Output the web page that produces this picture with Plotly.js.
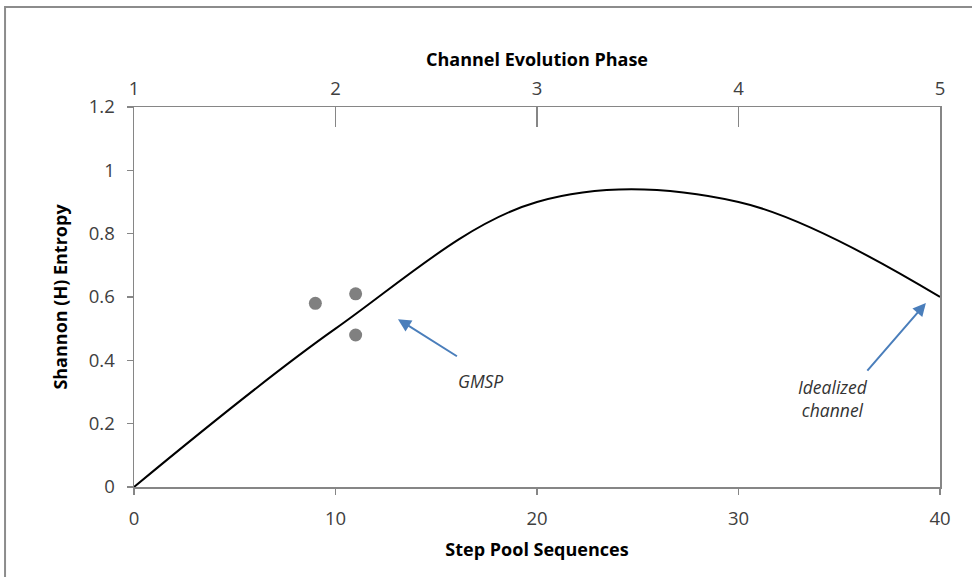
<!DOCTYPE html>
<html>
<head>
<meta charset="utf-8">
<script src="https://cdn.plot.ly/plotly-3.0.1.min.js"></script>
<style>html,body{margin:0;padding:0;background:#fff;}#chart{width:972px;height:577px;}</style>
</head>
<body>
<div id="chart"></div>
<script>
// Idealized channel curve
const curveX = [0, 10, 20, 30, 40];
const curveY = [0, 0.5, 0.9, 0.9, 0.6];
// GMSP observations
const gmspX = [9, 11, 11];
const gmspY = [0.58, 0.61, 0.48];
// top axis (Channel Evolution Phase)
const phaseTicks = [1, 2, 3, 4, 5];
const yTicks = [0, 0.2, 0.4, 0.6, 0.8, 1, 1.2];
const yTickText = ['0', '0.2', '0.4', '0.6', '0.8', '1', '1.2'];

const FONT = '"Open Sans", sans-serif';
const grey = '#868686';

const traces = [
  {x: curveX, y: curveY, type: 'scatter', mode: 'lines',
   line: {color: '#000', width: 2, shape: 'spline', smoothing: 1}, hoverinfo: 'skip'},
  {x: gmspX, y: gmspY, type: 'scatter', mode: 'markers',
   marker: {color: '#808080', size: 13}},
  {x: phaseTicks, y: [null, null, null, null, null], xaxis: 'x2', type: 'scatter', mode: 'markers', showlegend: false}
];

const layout = {
  width: 972, height: 577,
  margin: {l: 134, r: 32, t: 107, b: 90},
  paper_bgcolor: '#fff', plot_bgcolor: '#fff',
  showlegend: false,
  font: {family: FONT, color: '#404040', size: 18},
  xaxis: {
    range: [0, 40], tickvals: [0, 10, 20, 30, 40], ticktext: ['0','10','20','30','40'],
    showgrid: false, zeroline: false, showline: true, linecolor: grey, linewidth: 1.5,
    ticks: 'outside', ticklen: 6, tickcolor: grey, tickwidth: 1.5,
    ticklabelstandoff: 8,
    tickfont: {size: 18.5, color: '#404040'},
    title: {text: '<b>Step Pool Sequences</b>', font: {size: 18, color: '#000'}, standoff: 14}
  },
  xaxis2: {
    overlaying: 'x', side: 'top', range: [1, 5], tickvals: phaseTicks,
    showgrid: false, zeroline: false, showline: true, linecolor: grey, linewidth: 1.5,
    ticks: 'inside', ticklen: 20, tickcolor: grey, tickwidth: 1.5,
    ticklabelstandoff: 3,
    tickfont: {size: 18.5, color: '#404040'},
    title: {text: '<b>Channel Evolution Phase</b>', font: {size: 18, color: '#000'}, standoff: 4}
  },
  yaxis: {
    range: [0, 1.2], tickvals: yTicks, ticktext: yTickText,
    showgrid: false, zeroline: false, showline: true, linecolor: grey, linewidth: 1.5,
    mirror: true,
    ticks: 'outside', ticklen: 6, tickcolor: grey, tickwidth: 1.5,
    ticklabelstandoff: 8,
    tickfont: {size: 18.5, color: '#404040'},
    title: {text: '<b>Shannon (H) Entropy</b>', font: {size: 18, color: '#000'}, standoff: 16}
  },
  shapes: [
    {type: 'rect', xref: 'paper', yref: 'paper', x0: -0.16, x1: 1.2, y0: -0.6, y1: 1.263,
     line: {color: '#8c8c8c', width: 2}, fillcolor: 'rgba(0,0,0,0)', layer: 'below'}
  ],
  annotations: [
    {x: 13.1, y: 0.53, ax: 16.1, ay: 0.41, axref: 'x', ayref: 'y', xref: 'x', yref: 'y',
     text: '', showarrow: true, arrowhead: 2, arrowsize: 1.3, arrowwidth: 2, arrowcolor: '#4a7ebb'},
    {x: 39.3, y: 0.581, ax: 36.33, ay: 0.363, axref: 'x', ayref: 'y', xref: 'x', yref: 'y',
     text: '', showarrow: true, arrowhead: 2, arrowsize: 1.3, arrowwidth: 2, arrowcolor: '#4a7ebb'},
    {x: 17.2, y: 0.335, xref: 'x', yref: 'y', showarrow: false, text: 'GMSP',
     font: {size: 17.5, color: '#333', style: 'italic'}},
    {x: 34.7, y: 0.28, xref: 'x', yref: 'y', showarrow: false, text: 'Idealized<br>channel',
     font: {size: 17.5, color: '#333', style: 'italic'}}
  ]
};

Plotly.newPlot('chart', traces, layout, {displayModeBar: false, staticPlot: true});
</script>
</body>
</html>
